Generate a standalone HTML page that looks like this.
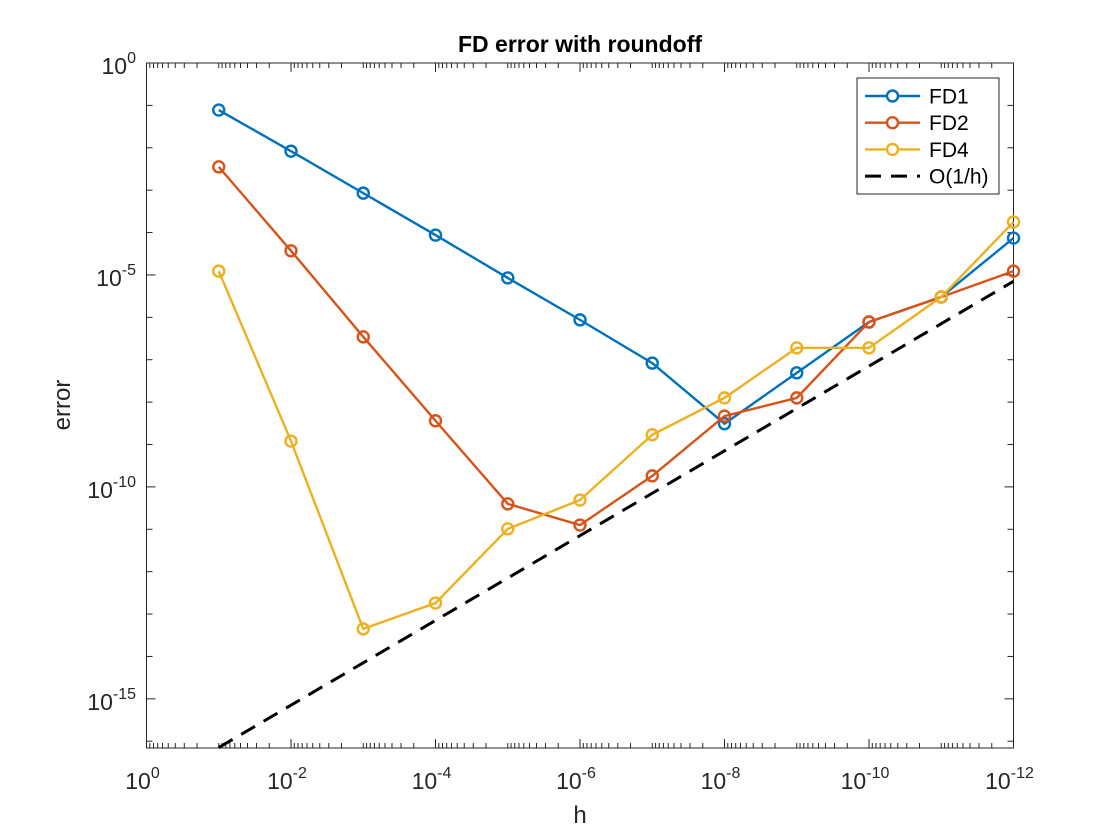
<!DOCTYPE html>
<html><head><meta charset="utf-8">
<style>
body{margin:0;background:#fff;}
svg{display:block;font-family:"Liberation Sans",Arial,sans-serif;}
</style></head>
<body>
<svg id="chart" width="1120" height="840">
<rect x="0" y="0" width="1120" height="840" fill="#fff"/>
<rect x="146.5" y="63" width="867" height="685" fill="#fff" stroke="#262626" stroke-width="1"/>
<g id="ticks"></g>
<g id="series"></g>
<text x="580" y="52" text-anchor="middle" font-size="23" font-weight="bold" fill="#000">FD error with roundoff</text>
<text x="580" y="823" text-anchor="middle" font-size="24" fill="#262626">h</text>
<text x="70" y="405" text-anchor="middle" font-size="24" fill="#262626" transform="rotate(-90 70 405)">error</text>
<g id="legend">
<rect x="857" y="78" width="142" height="116" fill="#fff" stroke="#262626" stroke-width="1"/>
</g>
</svg>
<script>
// Data: log10 values
const hExp = [-1,-2,-3,-4,-5,-6,-7,-8,-9,-10,-11,-12];
const fd1 = [-1.11,-2.08,-3.07,-4.06,-5.07,-6.06,-7.08,-8.51,-7.31,-6.11,-5.52,-4.13];
const fd2 = [-2.45,-4.43,-6.46,-8.44,-10.40,-10.90,-9.74,-8.33,-7.90,-6.11,-5.52,-4.91];
const fd4 = [-4.91,-8.92,-13.35,-12.74,-10.99,-10.31,-8.77,-7.90,-6.72,-6.72,-5.52,-3.75];
const ref = [-16.15,-15.15,-14.15,-13.15,-12.15,-11.15,-10.15,-9.15,-8.15,-7.15,-6.15,-5.15];
const xTicks = [0,-2,-4,-6,-8,-10,-12];
const yTicks = [0,-5,-10,-15];
const seriesNames = ['FD1','FD2','FD4','O(1/h)'];

const NS='http://www.w3.org/2000/svg';
const X0=146.5,X1=1013.5,Y0=63,Y1=748;
const xMin=0,xMax=-12,yMax=0,yMin=-16.16;
const xs=e=>X0+(e-xMin)/(xMax-xMin)*(X1-X0);
const ys=e=>Y0+(yMax-e)/(yMax-yMin)*(Y1-Y0);
function mk(tag,attrs,parent){const el=document.createElementNS(NS,tag);for(const k in attrs)el.setAttribute(k,attrs[k]);parent.appendChild(el);return el;}
const tg=document.getElementById('ticks');
for(let d=0;d>=-12;d--){
  const major=(d%2===0);
  const x=xs(d);const L=major?9:5;
  mk('line',{x1:x,x2:x,y1:Y1,y2:Y1-L,stroke:'#262626'},tg);
  mk('line',{x1:x,x2:x,y1:Y0,y2:Y0+L,stroke:'#262626'},tg);
  if(d===-12) break;
  for(let k=2;k<10;k++){
    const xx=xs(d-1+Math.log10(k));
    mk('line',{x1:xx,x2:xx,y1:Y1,y2:Y1-5,stroke:'#262626'},tg);
    mk('line',{x1:xx,x2:xx,y1:Y0,y2:Y0+5,stroke:'#262626'},tg);
  }
}
for(let d=0;d>=-16;d--){
  const y=ys(d);const L=(d%5===0)?9:6;
  mk('line',{x1:X0,x2:X0+L,y1:y,y2:y,stroke:'#262626'},tg);
  mk('line',{x1:X1,x2:X1-L,y1:y,y2:y,stroke:'#262626'},tg);
}
xTicks.forEach(t=>{
  const g=mk('text',{x:xs(t)-4,y:789,'text-anchor':'middle','font-size':'23',fill:'#262626'},tg);
  
  
  g.innerHTML='10<tspan dy="-11" font-size="16">'+t+'</tspan>';
});
yTicks.forEach(t=>{
  const g=mk('text',{x:136,y:ys(t)+11,'text-anchor':'end','font-size':'23',fill:'#262626'},tg);
  
  
  g.innerHTML='10<tspan dy="-11" font-size="16">'+t+'</tspan>';
});
const sg=document.getElementById('series');
const cols=['#0072bd','#d95319','#edb120'];
[fd1,fd2,fd4].forEach((arr,i)=>{
  const pts=arr.map((v,j)=>xs(hExp[j])+','+ys(v)).join(' ');
  const pl=mk('polyline',{points:pts,fill:'none',stroke:cols[i],'stroke-width':2.4},sg);
  
  
  arr.forEach((v,j)=>{
    const c=mk('circle',{cx:xs(hExp[j]),cy:ys(v),r:5.5,fill:'none',stroke:cols[i],'stroke-width':2.4},sg);
    
    
  });
});
const rl=mk('polyline',{points:ref.map((v,j)=>xs(hExp[j])+','+ys(v)).join(' '),fill:'none',stroke:'#000','stroke-width':3,'stroke-dasharray':'16,10'},sg);


const lg=document.getElementById('legend');
const lc=[...cols,'#000'];
seriesNames.forEach((n,i)=>{
  const y=96+i*26.7;
  const l=mk('line',{x1:865,x2:920,y1:y,y2:y,stroke:lc[i],'stroke-width':i===3?3:2.4},lg);
  if(i===3) l.setAttribute('stroke-dasharray','16,10');
  
  
  if(i<3){const c=mk('circle',{cx:892.5,cy:y,r:5.5,fill:'#fff',stroke:lc[i],'stroke-width':2.4},lg);
    
    }
  const t=mk('text',{x:929,y:y+7.5,'font-size':'21',fill:'#000'},lg);
  
  
  t.textContent=n;
});
</script>
</body></html>
